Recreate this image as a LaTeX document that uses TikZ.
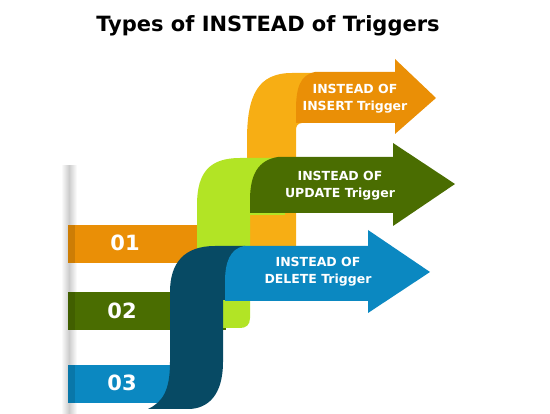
\documentclass[tikz,border=0pt]{standalone}
\usepackage{fontspec}
\setmainfont{DejaVu Sans}
\definecolor{cOrg}{HTML}{EA8F06}
\definecolor{cYel}{HTML}{F7AE14}
\definecolor{cDG}{HTML}{4A6D01}
\definecolor{cLG}{HTML}{B2E425}
\definecolor{cBlue}{HTML}{0B88C1}
\definecolor{cDB}{HTML}{074A64}
\tikzset{
  armtext/.style={text=white, align=center, font=\bfseries\fontsize{12.5}{17}\selectfont},
  numtext/.style={text=white, font=\bfseries\fontsize{21}{21}\selectfont},
  edge/.style={fill=black, opacity=0.12}
}
\begin{document}
\begin{tikzpicture}[x=1pt,y=-1pt]
\useasboundingbox (0,0) rectangle (550,414);
% title
\node[font=\bfseries\fontsize{21}{21}\selectfont] (title) at (268,26) {Types of INSTEAD of Triggers};
% gray vertical bar
\shade[left color=white, right color=gray!40] (61,166) rectangle (69,414);
\shade[left color=gray!40, right color=white] (69,166) rectangle (77,414);
% orange ribbon back
\fill[cYel] (247,265) -- (247,140) .. controls (247,95) and (258,73) .. (292,73) -- (320,73) -- (320,123) -- (302,123) .. controls (298,123) and (296,126) .. (296,130) -- (296,265) -- cycle;
% orange arrow
\fill[cOrg] (296,123) -- (296,110) .. controls (296,88) and (300,75) .. (315,72) -- (395,72) -- (395,59) -- (436,98) -- (395,134) -- (395,123) -- cycle;
% bar 01
\fill[cOrg] (68,225) rectangle (250,263);
\fill[edge] (68,225) rectangle (75,263);
% bar 02
\fill[cDG] (68,292) rectangle (226,330);
\fill[edge] (68,292) rectangle (75,330);
% green ribbon back
\fill[cLG] (197,328) -- (197,205) .. controls (197,172) and (210,158) .. (240,158) -- (285,158) -- (285,215) -- (250,215) -- (250,318) .. controls (250,325) and (246,328) .. (240,328) -- cycle;
% green arrow
\fill[cDG] (250,213) -- (250,200) .. controls (250,175) and (258,160) .. (278,157) -- (393,157) -- (393,143) -- (455,184) -- (393,226) -- (393,213) -- cycle;
% bar 03
\fill[cBlue] (68,365) rectangle (175,403);
\fill[edge] (68,365) rectangle (75,403);
% blue ribbon back
\fill[cDB] (148,409) .. controls (163,402) and (170,390) .. (170,362) -- (170,292) .. controls (170,262) and (185,246) .. (215,246) -- (245,246) -- (245,300) -- (223,300) -- (223,362) .. controls (223,395) and (208,409) .. (188,409) -- cycle;
% blue arrow
\fill[cBlue] (225,301) -- (225,282) .. controls (225,262) and (230,249) .. (244,246) -- (368,246) -- (368,230) -- (430,272) -- (368,313) -- (368,301) -- cycle;
% texts
\node[numtext] (n1) at (125,243) {01};
\node[numtext] (n2) at (122,311) {02};
\node[numtext] (n3) at (122,383) {03};
\node[armtext] (t1) at (355,99) {INSTEAD OF\\INSERT Trigger};
\node[armtext] (t2) at (340,186) {INSTEAD OF\\UPDATE Trigger};
\node[armtext] (t3) at (318,272) {INSTEAD OF\\DELETE Trigger};
\end{tikzpicture}
\end{document}
